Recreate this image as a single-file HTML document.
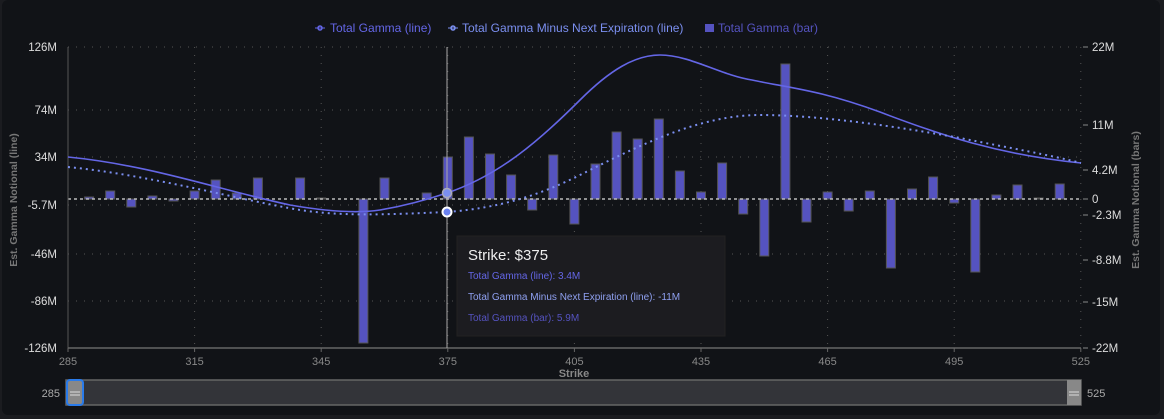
<!DOCTYPE html>
<html><head><meta charset="utf-8"><style>
html,body{margin:0;padding:0;background:#1b1c20;}
body{width:1164px;height:419px;overflow:hidden;font-family:"Liberation Sans",sans-serif;}
#card{position:absolute;left:2px;top:0;width:1158px;height:415px;background:#111317;border-radius:6px;}
svg{position:absolute;left:0;top:0;}
text{font-family:"Liberation Sans",sans-serif;}
</style></head><body>
<div id="card"></div>
<svg id="s" width="1164" height="419" viewBox="0 0 1164 419">
<g font-size="12" fill="#6466e6">
 <circle cx="320" cy="28" r="2" fill="none" stroke="#6466e6" stroke-width="1.5"/><line x1="315" y1="28" x2="325" y2="28" stroke="#6466e6" stroke-width="1"/>
 <text x="330" y="32">Total Gamma (line)</text>
 <circle cx="453" cy="28" r="2" fill="none" stroke="#7b8ff0" stroke-width="1.5"/><line x1="448" y1="28" x2="458" y2="28" stroke="#7b8ff0" stroke-width="1"/>
 <text x="462" y="32" fill="#7b8ff0">Total Gamma Minus Next Expiration (line)</text>
 <rect x="705" y="24" width="9" height="8" fill="#5553c0"/>
 <text x="718" y="32" fill="#5553c0">Total Gamma (bar)</text>
</g>
<g id="grid" stroke="#555" stroke-width="1" stroke-dasharray="1,7"></g>
<g id="bars"></g>
<line x1="68" y1="199" x2="1081" y2="199" stroke="#bbb" stroke-width="1.5" stroke-dasharray="3,3"/>
<line x1="68" y1="47" x2="68" y2="348" stroke="#555"/>
<line x1="68" y1="348" x2="1081" y2="348" stroke="#666" stroke-width="1.5"/>
<line x1="447" y1="47" x2="447" y2="348" stroke="#aaa" stroke-width="1"/>
<path d="M68,157 C150,165 220,190 290,205 C330,212 360,213 380,210 C410,205 435,197 447,193 C500,175 540,140 580,100 C610,70 635,55 660,55 C690,55 720,75 752,80 C790,88 820,90 880,112 C940,135 1000,155 1081,163" fill="none" stroke="#6466e6" stroke-width="1.6"/>
<path d="M68,167 C150,175 240,200 300,210 C340,216 380,215 447,212 C500,208 540,195 580,175 C640,145 700,115 760,115 C820,115 900,127 960,138 C1010,148 1050,155 1081,163" fill="none" stroke="#7b8ff0" stroke-width="2" stroke-dasharray="2,4"/>
<circle cx="447" cy="193" r="4.5" fill="#7b8ff0" stroke="#aab" stroke-width="1.5"/>
<circle cx="447" cy="212" r="4.5" fill="#6b82f0" stroke="#fff" stroke-width="2"/>
<g id="lab" font-size="11.5" fill="#ddd"></g>
<text transform="translate(17,200) rotate(-90)" text-anchor="middle" font-size="10.5" font-weight="bold" fill="#777">Est. Gamma Notional (line)</text>
<text transform="translate(1139,200) rotate(-90)" text-anchor="middle" font-size="10.5" font-weight="bold" fill="#777">Est. Gamma Notional (bars)</text>
<text x="574" y="377" text-anchor="middle" font-size="11" font-weight="bold" fill="#888">Strike</text>
<rect x="457" y="236" width="268" height="100" fill="#1c1c20" stroke="#222" />
<text x="468" y="260" font-size="15" fill="#eee">Strike: $375</text>
<text x="468" y="279" font-size="10" fill="#6466e6">Total Gamma (line): 3.4M</text>
<text x="468" y="300" font-size="10" fill="#8fa0f0">Total Gamma Minus Next Expiration (line): -11M</text>
<text x="468" y="321" font-size="10" fill="#5553c0">Total Gamma (bar): 5.9M</text>
<rect x="66" y="380" width="1015" height="25" fill="#333439" stroke="#666" stroke-width="1.5"/>
<rect x="67" y="380" width="16" height="25" rx="3" fill="#888" stroke="#2a7bea" stroke-width="2"/>
<line x1="70" y1="392" x2="80" y2="392" stroke="#ddd" stroke-width="1"/><line x1="70" y1="395" x2="80" y2="395" stroke="#ddd" stroke-width="1"/>
<rect x="1067" y="380" width="14" height="25" fill="#888"/>
<line x1="1069" y1="392" x2="1079" y2="392" stroke="#ddd"/><line x1="1069" y1="395" x2="1079" y2="395" stroke="#ddd"/>
<text x="60" y="397" text-anchor="end" font-size="11" fill="#aaa">285</text>
<text x="1087" y="397" font-size="11" fill="#aaa">525</text>
</svg>
<script>
var NS="http://www.w3.org/2000/svg";
function el(p,t,a,tx){var e=document.createElementNS(NS,t);for(var k in a)e.setAttribute(k,a[k]);if(tx)e.textContent=tx;document.getElementById(p).appendChild(e);}
var ly=[47,110,157,205,254,301,348],ll=["126M","74M","34M","-5.7M","-46M","-86M","-126M"];
ly.forEach(function(y,i){el("grid","line",{x1:68,y1:y,x2:1081,y2:y});el("lab","text",{x:57,y:y+4,"text-anchor":"end"},ll[i]);});
var ry=[47,125,170,199,215,260,302,348],rl=["22M","11M","4.2M","0","-2.3M","-8.8M","-15M","-22M"];
ry.forEach(function(y,i){el("lab","line",{x1:1083,y1:y,x2:1088,y2:y,stroke:"#888"});el("lab","text",{x:1092,y:y+4},rl[i]);});
for(var i=0;i<=8;i++){var x=68+i*126.6;el("grid","line",{x1:x,y1:47,x2:x,y2:348});el("lab","text",{x:x,y:365,"text-anchor":"middle","font-size":"11","fill":"#888"},String(285+i*30));el("lab","line",{x1:x,y1:348,x2:x,y2:352,stroke:"#666"});}
var t=[197,191,207,196,201,191,180,193,178,199,178,198,199,343,178,199,193,157,
137,154,175,210,155,224,164,132,139,119,171,192,163,214,256,64,222,192,211,191,268,189,177,203,272,195,185,198,184];
t.forEach(function(v,i){if(v==199)return;var x=68+(5+i*5)*4.22;var y0=Math.min(v,199),h=Math.abs(v-199);
el("bars","rect",{x:x-4.5,y:y0,width:9,height:h,fill:"#5553c0",stroke:"#555","stroke-width":1});});
</script>
</body></html>
